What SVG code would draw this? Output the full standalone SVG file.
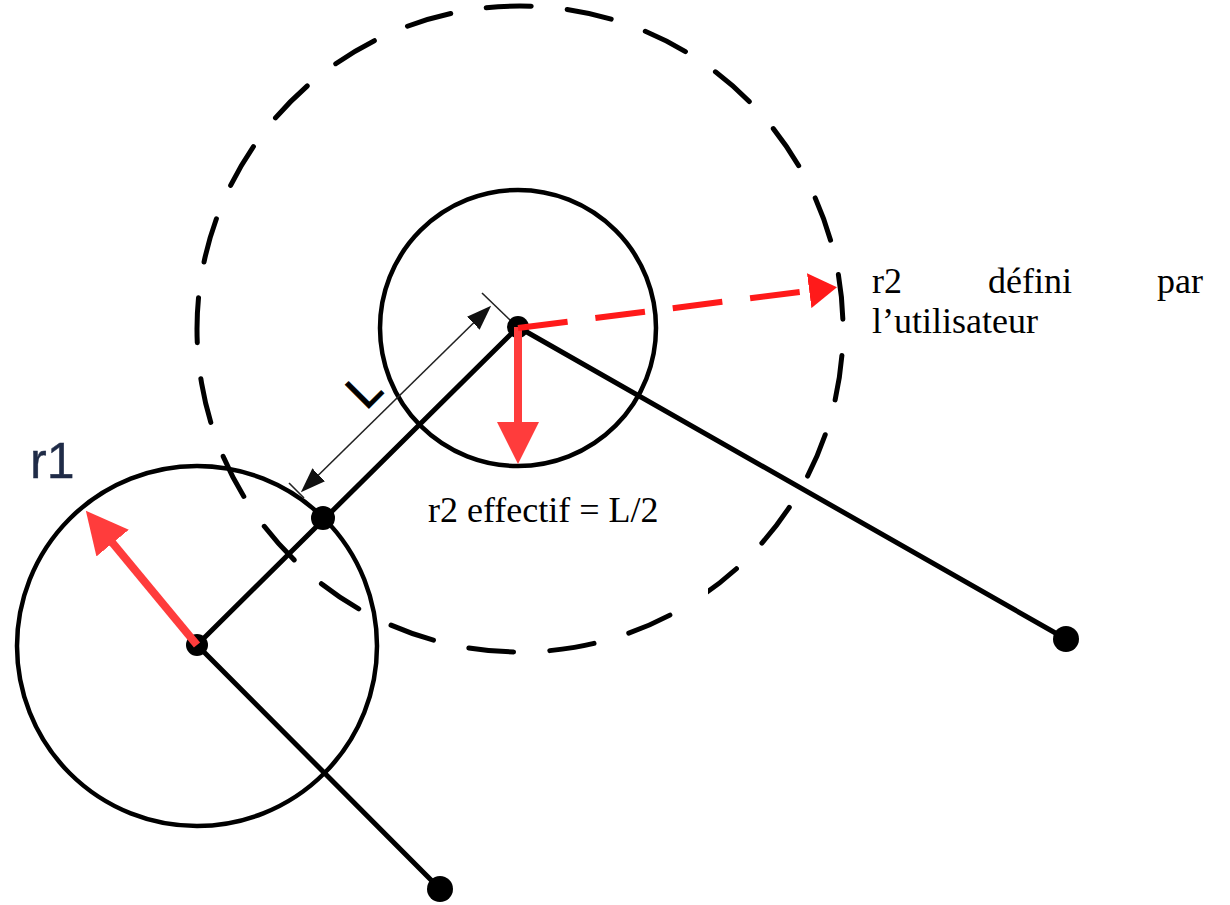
<svg xmlns="http://www.w3.org/2000/svg" width="1230" height="905" viewBox="0 0 1230 905">
<defs>
<style>
.ring{fill:none;stroke:#000;stroke-width:4.5}
.dashring{fill:none;stroke:#000;stroke-width:5;stroke-dasharray:45 36.18;stroke-linecap:round}
.link{stroke:#000;stroke-width:5;fill:none;stroke-linecap:round}
.dot{fill:#000}
.red{stroke:#ff3c3c;stroke-width:8;fill:none}
.reddash{stroke:#ff1a1a;stroke-width:6;stroke-dasharray:50 28;fill:none}
.dim{stroke:#222;stroke-width:1.6;fill:none}
.serif{font-family:"Liberation Serif","Times New Roman",serif;font-size:36px;fill:#000}
.sans{font-family:"Liberation Sans",Arial,sans-serif}
</style>
<marker id="redHead" markerUnits="userSpaceOnUse" viewBox="0 0 42 42" markerWidth="42" markerHeight="42" refX="1" refY="21" orient="auto">
<path d="M0,0 L42,21 L0,42 z" fill="#ff3c3c"/>
</marker>
<marker id="redHeadSmall" markerUnits="userSpaceOnUse" viewBox="0 0 28 35" markerWidth="28" markerHeight="35" refX="1" refY="17.5" orient="auto">
<path d="M0,0 L28,17.5 L0,35 z" fill="#ff1a1a"/>
</marker>
<marker id="dimHead" markerUnits="userSpaceOnUse" viewBox="0 0 25 18" markerWidth="25" markerHeight="18" refX="1" refY="9" orient="auto-start-reverse">
<path d="M0,0 L25,9 L0,18 z" fill="#111"/>
</marker>
</defs>
<rect width="1230" height="905" fill="#fff"/>

<g id="node-r2-defined-zone">
<circle class="dashring" cx="520" cy="329" r="323" transform="rotate(-9.7 520 329)"/>
</g>
<g id="node-r1-circle">
<circle class="ring" cx="197" cy="646" r="180"/>
</g>
<g id="node-r2-circle">
<circle class="ring" cx="518" cy="328" r="138"/>
</g>

<g id="connectors">
<line class="link" x1="197" y1="645" x2="518" y2="327"/>
<line class="link" x1="518" y1="327" x2="1066" y2="639"/>
<line class="link" x1="197" y1="645" x2="440" y2="889"/>
<line class="dim" x1="318" y1="475.5" x2="474" y2="322.5" marker-start="url(#dimHead)" marker-end="url(#dimHead)"/>
<line class="dim" x1="482" y1="293" x2="510" y2="320"/>
<line class="dim" x1="289" y1="483" x2="304" y2="498"/>
</g>

<g id="node-p-r1"><circle class="dot" cx="197" cy="645" r="11"/></g>
<g id="node-p-mid"><circle class="dot" cx="323" cy="518" r="12"/></g>
<g id="node-p-r2"><circle class="dot" cx="518" cy="327" r="11"/></g>
<g id="node-p-end1"><circle class="dot" cx="1066" cy="639" r="13"/></g>
<g id="node-p-end2"><circle class="dot" cx="440" cy="889" r="13"/></g>

<g id="radius-arrows">
<line class="red" x1="197" y1="645" x2="112" y2="542.3" marker-end="url(#redHead)"/>
<line class="red" x1="518" y1="327" x2="518" y2="423" marker-end="url(#redHead)"/>
<line class="reddash" x1="518" y1="328" x2="810.2" y2="290.6" marker-end="url(#redHeadSmall)"/>
</g>

<g id="label-L">
<text class="sans" x="366" y="411" font-size="48" fill="#000" stroke="#000" stroke-width="1" transform="rotate(-45 366 411)">L</text>
</g>
<g id="label-r1">
<text class="sans" x="30" y="478" font-size="50" fill="#1f2b47" stroke="#1f2b47" stroke-width="0.4">r1</text>
</g>
<g id="label-r2-defini">
<text class="serif" x="872" y="293">r2</text>
<text class="serif" x="988" y="293">défini</text>
<text class="serif" x="1203" y="293" text-anchor="end">par</text>
<text class="serif" x="872" y="333">l’utilisateur</text>
</g>
<g id="label-r2-effectif">
<rect x="384" y="487" width="324" height="118" fill="#fff"/>
<text class="serif" x="428" y="522">r2 effectif = L/2</text>
</g>
</svg>
